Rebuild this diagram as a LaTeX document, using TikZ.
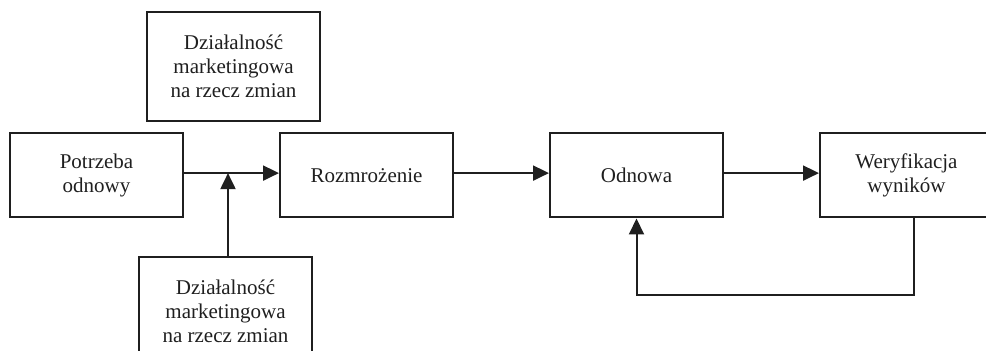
\documentclass[tikz,border=0pt]{standalone}
\usepackage{fontspec}
\setmainfont{Liberation Serif}
\usetikzlibrary{positioning,arrows.meta}

\begin{document}
\begin{tikzpicture}[%
        >={Triangle[length=8pt,width=7.5pt]},
        line width=1pt,
        color=black!88,
        node distance=135pt,
        on grid,
        box/.style={draw, rectangle, align=center, minimum width=86.5pt,
                    minimum height=42pt, inner sep=2pt,
                    font=\fontsize{10.5}{12}\selectfont},
        tallbox/.style={box, minimum height=54.5pt}
        ]

        \useasboundingbox (0,0) rectangle (493pt,-175.5pt);

        \node[box] (pot) at (48.25pt,-87.75pt) {Potrzeba\\odnowy};
        \node[box] (roz) [right=of pot] {Rozmro\.zenie};
        \node[box] (odn) [right=of roz] {Odnowa};
        \node[box] (wer) [right=of odn] {Weryfikacja\\wynik\'ow};
        \node[tallbox] (gora) [above right=54.5pt and 68.5pt of pot] {Dzia\l{}alno\'s\'c\\marketingowa\\na rzecz zmian};
        \node[tallbox] (dol) [below right=68pt and 64.5pt of pot] {Dzia\l{}alno\'s\'c\\marketingowa\\na rzecz zmian};
        \coordinate[right=65.75pt of pot, yshift=1.2pt] (join);

        \draw[->] (pot.east |- join) -- (roz.west |- join);
        \draw[->] (join |- dol.north) -- (join);
        \draw[->] (roz.east |- join) -- (odn.west |- join);
        \draw[->] (odn.east |- join) -- (wer.west |- join);
        \draw[->] ([xshift=3.5pt]wer.south) -- ++(0,-38.5pt) -| (odn.south);

        \end{tikzpicture}
\end{document}
